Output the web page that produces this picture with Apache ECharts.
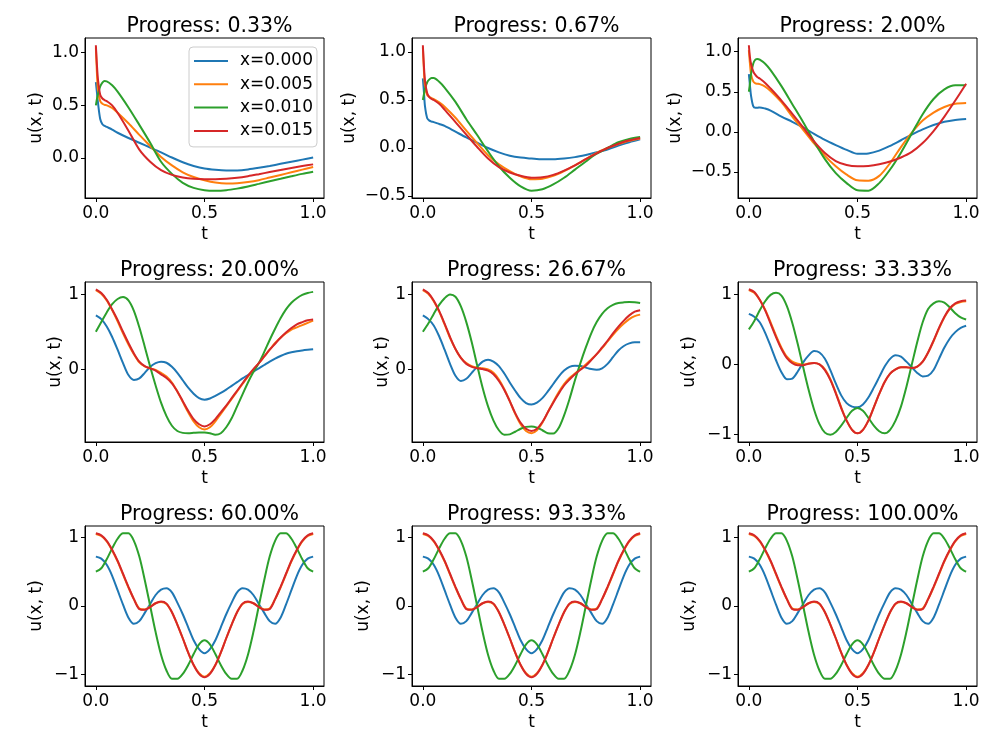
<!DOCTYPE html>
<html>
<head>
<meta charset="utf-8">
<script src="https://cdn.jsdelivr.net/npm/echarts@6/dist/echarts.min.js"></script>
<style>html,body{margin:0;padding:0;background:#fff;}#c{width:997px;height:747px;}</style>
</head>
<body>
<div id="c"></div>
<script>
// ---------------- data ----------------
const SERIES_NAMES = ['x=0.000', 'x=0.005', 'x=0.010', 'x=0.015'];
const TITLES = ['Progress: 0.33%', 'Progress: 0.67%', 'Progress: 2.00%',
  'Progress: 20.00%', 'Progress: 26.67%', 'Progress: 33.33%',
  'Progress: 60.00%', 'Progress: 93.33%', 'Progress: 100.00%'];
const X_TICKS = [0, 0.5, 1];
const Y_TICKS = [[0, 0.5, 1], [-0.5, 0, 0.5, 1], [-0.5, 0, 0.5, 1], [0, 1], [0, 1], [-1, 0, 1], [-1, 0, 1], [-1, 0, 1], [-1, 0, 1]];
const Y_DECIMALS = [1, 1, 1, 0, 0, 0, 0, 0, 0];

const T_EARLY = [0, 0.005, 0.01, 0.02, 0.03, 0.04, 0.05, 0.075, 0.1, 0.15, 0.2, 0.25, 0.3, 0.35, 0.4, 0.45, 0.5, 0.55, 0.6, 0.65, 0.7, 0.75, 0.8, 0.85, 0.9, 0.95, 1.0];
const T_LATE = [0, 0.025, 0.05, 0.075, 0.1, 0.125, 0.15, 0.175, 0.2, 0.225, 0.25, 0.275, 0.3, 0.325, 0.35, 0.375, 0.4, 0.425, 0.45, 0.475, 0.5, 0.525, 0.55, 0.575, 0.6, 0.625, 0.65, 0.675, 0.7, 0.725, 0.75, 0.775, 0.8, 0.825, 0.85, 0.875, 0.9, 0.925, 0.95, 0.975, 1.0];

// Progress 0.33%
const P1_X000 = [0.72, 0.62, 0.52, 0.37, 0.32, 0.305, 0.295, 0.27, 0.24, 0.19, 0.145, 0.1, 0.054, 0.005, -0.04, -0.075, -0.1, -0.112, -0.118, -0.117, -0.108, -0.093, -0.075, -0.055, -0.035, -0.015, 0.005];
const P1_X005 = [1.05, 0.8, 0.64, 0.54, 0.515, 0.505, 0.5, 0.475, 0.43, 0.33, 0.22, 0.115, 0.01, -0.07, -0.135, -0.18, -0.21, -0.232, -0.242, -0.24, -0.228, -0.21, -0.185, -0.16, -0.135, -0.11, -0.085];
const P1_X010 = [0.5, 0.56, 0.61, 0.68, 0.715, 0.73, 0.728, 0.69, 0.63, 0.48, 0.315, 0.145, -0.035, -0.15, -0.235, -0.283, -0.305, -0.31, -0.305, -0.29, -0.27, -0.245, -0.22, -0.197, -0.173, -0.15, -0.13];
const P1_X015 = [1.07, 0.88, 0.74, 0.6, 0.565, 0.55, 0.54, 0.5, 0.43, 0.26, 0.08, -0.035, -0.115, -0.16, -0.185, -0.197, -0.2, -0.2, -0.196, -0.187, -0.172, -0.153, -0.133, -0.113, -0.094, -0.076, -0.06];
// Progress 0.67%
const P2_X000 = [0.726, 0.58, 0.43, 0.31, 0.285, 0.275, 0.27, 0.25, 0.23, 0.17, 0.11, 0.055, 0.0, -0.045, -0.08, -0.1, -0.11, -0.118, -0.118, -0.11, -0.095, -0.072, -0.045, -0.015, 0.025, 0.06, 0.09];
const P2_X005 = [1.05, 0.8, 0.64, 0.55, 0.53, 0.52, 0.51, 0.475, 0.43, 0.315, 0.18, 0.05, -0.075, -0.17, -0.24, -0.295, -0.325, -0.32, -0.29, -0.24, -0.18, -0.115, -0.05, 0.0, 0.04, 0.075, 0.1];
const P2_X010 = [0.5, 0.56, 0.62, 0.685, 0.715, 0.73, 0.73, 0.69, 0.63, 0.48, 0.3, 0.135, -0.035, -0.19, -0.31, -0.4, -0.445, -0.43, -0.38, -0.31, -0.225, -0.14, -0.06, 0.0, 0.06, 0.095, 0.115];
const P2_X015 = [1.07, 0.85, 0.7, 0.57, 0.53, 0.51, 0.5, 0.46, 0.4, 0.27, 0.14, 0.01, -0.11, -0.2, -0.255, -0.29, -0.31, -0.305, -0.28, -0.235, -0.18, -0.115, -0.055, 0.0, 0.045, 0.08, 0.105];
// Progress 2.00%
const P3_X000 = [0.72, 0.58, 0.45, 0.32, 0.3, 0.3, 0.305, 0.29, 0.265, 0.19, 0.125, 0.055, -0.025, -0.1, -0.165, -0.225, -0.275, -0.27, -0.235, -0.175, -0.105, -0.035, 0.03, 0.085, 0.125, 0.148, 0.16];
const P3_X005 = [1.02, 0.85, 0.72, 0.63, 0.605, 0.6, 0.595, 0.565, 0.51, 0.37, 0.19, 0.025, -0.145, -0.3, -0.43, -0.535, -0.605, -0.61, -0.55, -0.39, -0.19, -0.01, 0.14, 0.24, 0.31, 0.35, 0.36];
const P3_X010 = [0.5, 0.6, 0.72, 0.85, 0.9, 0.91, 0.9, 0.85, 0.77, 0.57, 0.345, 0.12, -0.12, -0.34, -0.515, -0.64, -0.73, -0.735, -0.64, -0.47, -0.26, -0.02, 0.22, 0.41, 0.53, 0.58, 0.58];
const P3_X015 = [1.08, 0.93, 0.85, 0.755, 0.71, 0.68, 0.665, 0.61, 0.54, 0.39, 0.225, 0.055, -0.12, -0.265, -0.365, -0.415, -0.43, -0.425, -0.405, -0.37, -0.32, -0.25, -0.14, 0.01, 0.19, 0.39, 0.6];
// Progress 20.00%
const P4_X000 = [0.72, 0.67, 0.57, 0.43, 0.26, 0.08, -0.08, -0.145, -0.125, -0.05, 0.03, 0.08, 0.1, 0.085, 0.03, -0.05, -0.15, -0.25, -0.33, -0.39, -0.41, -0.395, -0.36, -0.32, -0.275, -0.225, -0.175, -0.125, -0.08, -0.035, 0.01, 0.055, 0.1, 0.14, 0.175, 0.205, 0.225, 0.24, 0.25, 0.258, 0.265];
const P4_X005 = [1.06, 1.01, 0.92, 0.79, 0.64, 0.48, 0.33, 0.2, 0.09, 0.035, 0.01, -0.01, -0.05, -0.1, -0.18, -0.3, -0.44, -0.58, -0.7, -0.78, -0.81, -0.78, -0.7, -0.6, -0.5, -0.4, -0.3, -0.2, -0.1, -0.01, 0.08, 0.17, 0.26, 0.35, 0.42, 0.48, 0.53, 0.56, 0.59, 0.62, 0.65];
const P4_X010 = [0.5, 0.63, 0.76, 0.87, 0.94, 0.965, 0.92, 0.78, 0.56, 0.3, 0.03, -0.22, -0.45, -0.63, -0.76, -0.83, -0.855, -0.86, -0.855, -0.85, -0.85, -0.86, -0.88, -0.86, -0.78, -0.66, -0.5, -0.34, -0.18, -0.04, 0.08, 0.23, 0.39, 0.54, 0.68, 0.8, 0.89, 0.95, 0.995, 1.02, 1.035];
const P4_X015 = [1.07, 1.02, 0.93, 0.8, 0.66, 0.5, 0.35, 0.21, 0.1, 0.04, 0.01, -0.02, -0.07, -0.12, -0.19, -0.3, -0.43, -0.56, -0.67, -0.74, -0.77, -0.74, -0.67, -0.58, -0.49, -0.39, -0.29, -0.19, -0.09, 0.0, 0.08, 0.17, 0.26, 0.34, 0.42, 0.49, 0.55, 0.6, 0.63, 0.655, 0.665];
// Progress 26.67%
const P5_X000 = [0.72, 0.67, 0.585, 0.44, 0.26, 0.07, -0.09, -0.16, -0.13, -0.05, 0.03, 0.1, 0.125, 0.1, 0.04, -0.06, -0.18, -0.29, -0.39, -0.455, -0.475, -0.45, -0.39, -0.3, -0.2, -0.1, -0.02, 0.03, 0.045, 0.04, 0.02, 0.0, -0.01, 0.01, 0.07, 0.16, 0.25, 0.31, 0.345, 0.36, 0.36];
const P5_X005 = [1.06, 1.01, 0.91, 0.77, 0.6, 0.42, 0.27, 0.15, 0.08, 0.04, 0.02, 0.01, -0.005, -0.05, -0.14, -0.27, -0.43, -0.6, -0.74, -0.83, -0.86, -0.82, -0.72, -0.58, -0.44, -0.31, -0.2, -0.12, -0.06, 0.0, 0.06, 0.13, 0.2, 0.28, 0.37, 0.46, 0.54, 0.61, 0.67, 0.71, 0.73];
const P5_X010 = [0.5, 0.61, 0.74, 0.86, 0.95, 1.0, 0.97, 0.84, 0.63, 0.36, 0.05, -0.25, -0.5, -0.69, -0.82, -0.88, -0.875, -0.84, -0.8, -0.775, -0.77, -0.785, -0.82, -0.86, -0.865, -0.79, -0.62, -0.4, -0.15, 0.08, 0.29, 0.48, 0.63, 0.74, 0.815, 0.86, 0.885, 0.895, 0.9, 0.895, 0.885];
const P5_X015 = [1.07, 1.02, 0.92, 0.78, 0.61, 0.43, 0.27, 0.15, 0.07, 0.03, 0.01, 0.0, -0.02, -0.07, -0.16, -0.28, -0.43, -0.59, -0.72, -0.8, -0.83, -0.8, -0.71, -0.58, -0.45, -0.33, -0.22, -0.14, -0.07, -0.01, 0.045, 0.12, 0.2, 0.29, 0.38, 0.48, 0.57, 0.65, 0.72, 0.77, 0.79];
// Progress 33.33%
const P6_X000 = [0.72, 0.68, 0.6, 0.45, 0.26, 0.06, -0.11, -0.21, -0.2, -0.1, 0.03, 0.13, 0.19, 0.17, 0.08, -0.08, -0.27, -0.44, -0.55, -0.6, -0.61, -0.57, -0.47, -0.33, -0.18, -0.03, 0.08, 0.13, 0.11, 0.04, -0.04, -0.12, -0.17, -0.16, -0.08, 0.08, 0.24, 0.37, 0.46, 0.52, 0.55];
const P6_X005 = [1.06, 1.02, 0.92, 0.78, 0.6, 0.41, 0.24, 0.11, 0.04, 0.01, 0.0, 0.015, 0.02, 0.0, -0.07, -0.21, -0.4, -0.61, -0.8, -0.93, -0.98, -0.93, -0.8, -0.61, -0.42, -0.25, -0.13, -0.07, -0.04, -0.04, -0.05, -0.03, 0.04, 0.17, 0.33, 0.51, 0.67, 0.79, 0.86, 0.89, 0.9];
const P6_X010 = [0.5, 0.62, 0.77, 0.9, 0.99, 1.02, 0.98, 0.83, 0.59, 0.29, -0.04, -0.36, -0.64, -0.85, -0.97, -1.0, -0.96, -0.87, -0.76, -0.66, -0.62, -0.66, -0.76, -0.87, -0.95, -0.98, -0.93, -0.8, -0.6, -0.32, 0.0, 0.32, 0.6, 0.79, 0.87, 0.9, 0.88, 0.81, 0.73, 0.67, 0.64];
const P6_X015 = [1.07, 1.03, 0.92, 0.77, 0.58, 0.39, 0.22, 0.09, 0.02, -0.01, -0.01, 0.01, 0.02, 0.0, -0.08, -0.22, -0.41, -0.62, -0.8, -0.93, -0.98, -0.93, -0.8, -0.61, -0.42, -0.25, -0.13, -0.07, -0.04, -0.04, -0.05, -0.03, 0.04, 0.17, 0.34, 0.52, 0.68, 0.8, 0.87, 0.9, 0.91];
// Progress 60.00% / 93.33% / 100.00% (the three panels read identical)
const PF_X000 = [0.72, 0.69, 0.6, 0.44, 0.23, 0.02, -0.17, -0.26, -0.22, -0.1, 0.03, 0.16, 0.24, 0.26, 0.2, 0.05, -0.12, -0.31, -0.5, -0.63, -0.69, -0.63, -0.5, -0.31, -0.12, 0.05, 0.2, 0.26, 0.24, 0.16, 0.03, -0.1, -0.22, -0.26, -0.17, 0.02, 0.23, 0.44, 0.6, 0.69, 0.72];
const PF_X005 = [1.05, 1.02, 0.94, 0.81, 0.65, 0.46, 0.27, 0.1, -0.035, -0.05, -0.01, 0.04, 0.058, 0.03, -0.09, -0.27, -0.47, -0.68, -0.86, -0.98, -1.03, -0.98, -0.86, -0.68, -0.47, -0.27, -0.09, 0.03, 0.058, 0.04, -0.01, -0.05, -0.035, 0.1, 0.27, 0.46, 0.65, 0.81, 0.94, 1.02, 1.05];
const PF_X010 = [0.5, 0.55, 0.68, 0.84, 0.98, 1.06, 1.06, 0.95, 0.72, 0.38, 0.0, -0.38, -0.71, -0.94, -1.06, -1.06, -0.99, -0.86, -0.7, -0.56, -0.5, -0.56, -0.7, -0.86, -0.99, -1.06, -1.06, -0.94, -0.71, -0.38, 0.0, 0.38, 0.72, 0.95, 1.06, 1.06, 0.98, 0.84, 0.68, 0.55, 0.5];
const PF_X015 = [1.06, 1.03, 0.95, 0.82, 0.66, 0.47, 0.28, 0.1, -0.045, -0.055, -0.015, 0.04, 0.064, 0.035, -0.09, -0.27, -0.47, -0.68, -0.86, -0.99, -1.04, -0.99, -0.86, -0.68, -0.47, -0.27, -0.09, 0.035, 0.064, 0.04, -0.015, -0.055, -0.045, 0.1, 0.28, 0.47, 0.66, 0.82, 0.95, 1.03, 1.06];

const PANELS = [
  {t: T_EARLY, lines: [P1_X000, P1_X005, P1_X010, P1_X015]},
  {t: T_EARLY, lines: [P2_X000, P2_X005, P2_X010, P2_X015]},
  {t: T_EARLY, lines: [P3_X000, P3_X005, P3_X010, P3_X015]},
  {t: T_LATE, lines: [P4_X000, P4_X005, P4_X010, P4_X015]},
  {t: T_LATE, lines: [P5_X000, P5_X005, P5_X010, P5_X015]},
  {t: T_LATE, lines: [P6_X000, P6_X005, P6_X010, P6_X015]},
  {t: T_LATE, lines: [PF_X000, PF_X005, PF_X010, PF_X015]},
  {t: T_LATE, lines: [PF_X000, PF_X005, PF_X010, PF_X015]},
  {t: T_LATE, lines: [PF_X000, PF_X005, PF_X010, PF_X015]}
];

// ---------------- layout / style ----------------
const COLORS = ['#1f77b4', '#ff7f0e', '#2ca02c', '#d62728'];
const FONT = 'DejaVu Sans';
const TICK_FS = 17, TITLE_FS = 20.5;
const COL_LEFT = [85, 412, 738];
const ROW_TOP = [38, 282, 526];
const GW = 239, GH = 160;
const Y_NAME_GAP = [40, 54, 54, 19, 19, 40, 40, 40, 40];

function fmt(v, d) {
  let s = Math.abs(v) < 1e-9 ? (0).toFixed(d) : v.toFixed(d);
  return s.replace('-', '\u2212');
}

const grids = [], xAxes = [], yAxes = [], titles = [], series = [];
PANELS.forEach((p, i) => {
  const r = Math.floor(i / 3), c = i % 3;
  const left = COL_LEFT[c], top = ROW_TOP[r];
  grids.push({left: left, top: top, width: GW, height: GH, show: true,
    borderColor: '#000', borderWidth: 1, backgroundColor: 'transparent', containLabel: false});
  let all = [];
  p.lines.forEach(a => all = all.concat(a));
  const dmin = Math.min.apply(null, all), dmax = Math.max.apply(null, all);
  const span = dmax - dmin;
  const tmin = Math.min.apply(null, p.t), tmax = Math.max.apply(null, p.t);
  const tspan = tmax - tmin;
  xAxes.push({type: 'value', gridIndex: i, min: tmin - 0.05 * tspan, max: tmax + 0.05 * tspan,
    name: 't', nameLocation: 'middle', nameGap: 28,
    nameTextStyle: {fontFamily: FONT, fontSize: TICK_FS, color: '#000'},
    axisLine: {show: true, onZero: false, lineStyle: {color: '#000', width: 1}},
    axisTick: {show: true, length: 4, inside: false, customValues: X_TICKS, lineStyle: {color: '#000', width: 1}},
    axisLabel: {show: true, margin: 7, customValues: X_TICKS, fontFamily: FONT, fontSize: TICK_FS, color: '#000',
      formatter: v => fmt(v, 1)},
    splitLine: {show: false}});
  const dec = Y_DECIMALS[i];
  yAxes.push({type: 'value', gridIndex: i, min: dmin - 0.05 * span, max: dmax + 0.05 * span,
    name: 'u(x, t)', nameLocation: 'middle', nameGap: Y_NAME_GAP[i],
    nameTextStyle: {fontFamily: FONT, fontSize: TICK_FS, color: '#000'},
    axisLine: {show: true, onZero: false, lineStyle: {color: '#000', width: 1}},
    axisTick: {show: true, length: 4, inside: false, customValues: Y_TICKS[i], lineStyle: {color: '#000', width: 1}},
    axisLabel: {show: true, margin: 6, customValues: Y_TICKS[i], fontFamily: FONT, fontSize: TICK_FS, color: '#000',
      formatter: v => fmt(v, dec)},
    splitLine: {show: false}});
  titles.push({text: TITLES[i], left: left + GW / 2, top: top - 27, textAlign: 'center',
    textStyle: {fontFamily: FONT, fontSize: TITLE_FS, fontWeight: 'normal', color: '#000'}});
  p.lines.forEach((vals, k) => {
    series.push({type: 'line', name: SERIES_NAMES[k], xAxisIndex: i, yAxisIndex: i,
      data: p.t.map((t, j) => [t, vals[j]]),
      showSymbol: false, symbol: 'none', smooth: 0.3, clip: false,
      lineStyle: {color: COLORS[k], width: 2}, itemStyle: {color: COLORS[k]},
      emphasis: {disabled: true}, animation: false});
  });
});

const chart = echarts.init(document.getElementById('c'), null, {renderer: 'canvas'});
chart.setOption({
  backgroundColor: '#fff',
  animation: false,
  color: COLORS,
  title: titles,
  grid: grids,
  xAxis: xAxes,
  yAxis: yAxes,
  legend: {show: true, orient: 'vertical', left: 189, top: 47, data: SERIES_NAMES,
    icon: 'rect', itemWidth: 34, itemHeight: 2, itemGap: 6.3,
    padding: [5.5, 4, 7.5, 5], borderColor: '#cccccc', borderWidth: 1, borderRadius: 4,
    backgroundColor: 'rgba(255,255,255,0.8)',
    textStyle: {fontFamily: FONT, fontSize: TICK_FS, color: '#000', lineHeight: 17, padding: [0, 0, 0, 7]}},
  series: series
});
</script>
</body>
</html>
